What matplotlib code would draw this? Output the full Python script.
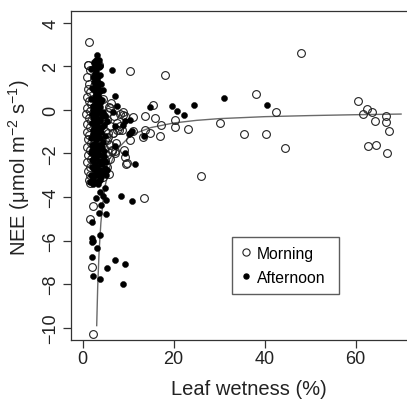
import matplotlib
matplotlib.use("Agg")
import matplotlib.pyplot as plt
from matplotlib.lines import Line2D

plt.rcParams['font.family'] = ['Liberation Sans', 'DejaVu Sans']
plt.rcParams['mathtext.fontset'] = 'custom'
plt.rcParams['mathtext.rm'] = 'Liberation Sans'
plt.rcParams['mathtext.it'] = 'Liberation Sans:italic'

# ---- Morning (open circles): leaf wetness (%) and NEE ----
morning_x = [1.3, 1.25, 3.5, 10.3, 18.0, 48.0, 38.2, 60.6, 42.5, 62.4, 63.7, 61.7, 64.2,
             66.7, 66.6, 67.3, 62.7, 64.4, 66.8, 30.1, 35.4, 40.2, 44.5, 26.1, 13.4, 23.2,
             20.3, 20.3, 17.0, 17.2, 15.9, 15.4, 14.9, 13.6, 13.7, 13.2, 11.1, 11.1, 10.3,
             8.9, 9.4, 9.1, 9.5, 9.2, 8.1, 6.7, 7.1, 2.2, 1.5, 2.1, 2.2,
             1.2, 1.6, 1.0, 1.4, 1.1, 1.7, 0.9, 1.3, 1.8, 1.0, 1.5, 0.8, 1.3, 1.9, 1.0,
             1.6, 0.9, 1.4, 1.1, 1.8, 0.9, 1.5, 1.2, 1.8, 1.0, 1.5, 1.2, 1.7, 1.3, 1.6,
             2.2, 2.5, 2.8, 5.8, 6.3, 5.5, 6.9, 5.3, 7.5, 6.1, 5.0, 6.7, 5.6, 4.8, 7.3,
             5.9, 4.6, 6.4, 5.3, 4.9, 6.0, 5.4, 4.7, 5.8, 4.5, 7.6, 8.3, 8.0, 4.4, 4.6,
             6.0, 8.9, 8.7, 9.7, 6.4, 7.1, 5.3, 5.6]
morning_y = [3.11, 2.08, 2.08, 1.80, 1.59, 2.60, 0.73, 0.43, -0.08, 0.05, -0.08, -0.21, -0.49,
             -0.26, -0.56, -0.95, -1.66, -1.62, -2.00, -0.60, -1.10, -1.11, -1.76, -3.05, -4.05, -0.89,
             -0.44, -0.79, -1.20, -0.70, -0.38, 0.23, -1.05, -0.26, -0.93, -1.25, -0.32, -0.98, -1.36,
             -0.08, -0.29, -1.82, -2.47, -2.15, -0.75, -1.05, -1.90, -4.43, -5.02, -7.20, -10.30,
             2.05, 1.85, 1.50, 1.20, 0.95, 0.80, 0.60, 0.40, 0.25, 0.10, -0.05, -0.20, -0.35, -0.50, -0.65,
             -0.80, -1.00, -1.15, -1.35, -1.50, -1.70, -1.85, -2.05, -2.25, -2.40, -2.60, -2.80, -3.00, -3.20, -3.35,
             -3.20, 1.10, -0.20, 0.15, 0.30, -0.10, -0.30, -0.45, -0.60, -0.75, -0.95, -1.05, -1.25, -1.40, -1.50,
             -1.60, -1.75, -1.90, -2.05, -2.30, -2.25, -2.60, -2.80, -2.95, -3.10, -0.90, -0.20, -0.90, 0.50, -0.30,
             0.09, -0.22, -0.90, -2.43, -1.82, -2.00, -1.36, -1.05]

# ---- Afternoon (filled dots) ----
afternoon_x = [6.5, 7.1, 31.1, 40.6, 24.5, 19.6, 20.7, 22.2, 14.9, 13.5, 11.5, 9.3, 10.4,
               8.4, 10.8, 7.1, 9.3, 8.9, 5.3, 2.1, 2.0, 2.1, 2.2, 3.2, 3.7, 2.1, 2.2, 3.8,
               2.9, 3.8, 4.5, 5.1, 4.0, 3.6, 5.1, 4.9,
               7.6, 6.7, 7.1, 8.9, 10.2, 10.8, 10.4, 7.1, 5.3, 9.3,
               3.1, 2.9, 3.3, 2.6, 3.5, 3.0, 2.7, 3.4, 3.1, 2.5, 3.6, 2.9, 3.3, 2.4, 3.8,
               3.0, 2.6, 3.5, 4.2, 2.8, 3.2, 2.3, 3.9, 3.0, 2.6, 3.5, 4.4, 2.9, 2.2, 3.3,
               3.9, 2.6, 3.1, 4.6, 2.4, 3.6, 2.9, 4.1, 2.2, 3.3, 2.7, 3.8, 3.0, 4.4, 2.4,
               3.5, 2.9, 4.0, 2.1, 3.3, 2.6, 3.7, 4.6, 3.0, 2.3, 3.5, 4.2, 2.8, 3.2, 4.8,
               2.4, 3.8, 3.0, 4.4, 2.6, 3.5, 2.2, 3.9, 2.9, 2.3, 3.4, 5.2, 5.1, 4.8, 5.0,
               5.4, 2.0, 2.0, 2.0, 3.7, 4.0, 3.6, 4.5, 2.7, 3.2, 3.9, 2.5, 3.4, 4.3,
               1.8, 2.2, 1.9, 2.0, 1.8, 1.9, 1.8, 4.0, 4.2, 4.3, 4.5, 4.1, 2.5, 3.9, 2.3,
               2.2, 2.1, 2.0, 2.5, 3.3, 1.7, 3.6, 4.7, 4.5, 3.8]
afternoon_y = [1.82, 0.63, 0.55, 0.21, 0.21, 0.20, -0.03, -0.24, 0.12, -1.20, -2.46, -1.97, -1.05,
               -3.95, -4.20, -6.89, -7.08, -7.97, -7.25, -5.13, -5.90, -6.05, -6.00, -6.32, -5.76, -6.73, -7.62, -7.77,
               -4.05, -3.77, -3.95, -4.14, -4.37, -4.72, -4.79, -3.57,
               0.20, -0.09, -0.75, -0.67, -1.10, -0.98, -0.45, -1.67, -2.74, -0.50,
               2.53, 2.30, 2.15, 2.00, 1.95, 1.80, 1.65, 1.55, 1.40, 1.30, 1.25, 1.15, 1.00, 0.90, 0.85,
               0.75, 0.60, 0.55, 0.45, 0.40, 0.30, 0.20, 0.15, 0.05, -0.05, -0.10, -0.20, -0.25, -0.35, -0.40,
               -0.50, -0.55, -0.65, -0.70, -0.80, -0.85, -0.95, -1.00, -1.10, -1.15, -1.25, -1.30, -1.40, -1.45, -1.55,
               -1.60, -1.70, -1.75, -1.85, -1.90, -2.00, -2.05, -2.10, -2.20, -2.30, -2.35, -2.45, -2.50, -2.60, -2.65,
               -2.70, -2.75, -2.85, -2.90, -3.00, -3.05, -3.15, -3.20, -3.30, -3.40, -3.40, -3.00, -2.40, -1.20, -0.30,
               -0.50, 1.00, -0.60, -2.60, 1.60, -2.50, 2.30, 0.90, 0.10, -0.85, -1.60, -2.15, 0.70, -0.30,
               1.90, 1.50, 0.50, -0.20, -1.30, -2.00, -3.00, 1.20, -0.80, -1.70, -2.30, -3.10, 2.20, 2.00, 0.00,
               -0.90, -1.60, -2.30, -1.90, -3.30, -3.30, -2.90, -1.90, -0.10, 0.30]

# ---- fitted curve ----
curve_x = [3.08, 3.3, 3.6, 4.0, 4.5, 5.0, 6.0, 7.0, 8.0, 10.0, 12.0, 15.0, 20.0, 25.0,
           30.0, 40.0, 50.0, 60.0, 70.0]
curve_y = [-9.90, -8.12, -6.53, -5.18, -4.12, -3.42, -2.56, -2.05, -1.71, -1.29, -1.04,
           -0.81, -0.60, -0.48, -0.40, -0.31, -0.26, -0.22, -0.19]

x_ticks = [0, 20, 40, 60]
y_ticks = [4, 2, 0, -2, -4, -6, -8, -10]

fig = plt.figure(figsize=(4.07, 4.02), dpi=100)
ax = fig.add_axes([71/407, 1 - 341/402, 356/407, 329/402])

ax.plot(curve_x, curve_y, color='#6a6a6a', lw=1.0, zorder=1)
ax.plot(morning_x, morning_y, 'o', ms=5.6, mfc='none', mec='#222222', mew=0.8, ls='none', zorder=2)
ax.plot(afternoon_x, afternoon_y, 'o', ms=4.4, mfc='black', mec='black', mew=0.3, ls='none', zorder=3)

ax.set_xlim(-2.57, 75.7)
ax.set_ylim(-10.56, 4.54)
ax.set_xticks(x_ticks)
ax.set_yticks(y_ticks)
ax.tick_params(axis='both', direction='out', length=5.5, width=0.9, color='#333333',
               labelsize=13, labelcolor='#222222')
ax.tick_params(axis='x', pad=2)
ax.tick_params(axis='y', pad=3)
for lab in ax.get_yticklabels():
    lab.set_rotation(90)
    lab.set_va('center')
for side in ['left', 'bottom', 'top']:
    ax.spines[side].set_color('#333333')
    ax.spines[side].set_linewidth(0.9)
ax.spines['right'].set_visible(False)

ax.set_xlabel('Leaf wetness (%)', fontsize=14.5, color='#222222')
ax.xaxis.set_label_coords(0.50, -0.118)
ax.set_ylabel(r'NEE ($\mathrm{\mu}$mol m$^{-2}$ s$^{-1}$)', fontsize=14.5, color='#222222', va='center')
ax.yaxis.set_label_coords(-0.146, 0.526)

handles = [Line2D([], [], marker='o', ls='none', ms=5.2, mfc='none', mec='#222222', mew=0.8),
           Line2D([], [], marker='o', ls='none', ms=3.6, mfc='black', mec='black')]
leg = ax.legend(handles, ['Morning', 'Afternoon'], loc='lower left',
                bbox_to_anchor=(161/356, 46/329, 107/356, 61/329), mode='expand',
                fontsize=11.3, frameon=True, fancybox=False, handlelength=0.6,
                handletextpad=0.4, borderaxespad=0, labelspacing=0.55,
                borderpad=0.6)
leg.get_frame().set_edgecolor('#333333')
leg.get_frame().set_linewidth(1.0)

fig.savefig('out.png', dpi=100)
